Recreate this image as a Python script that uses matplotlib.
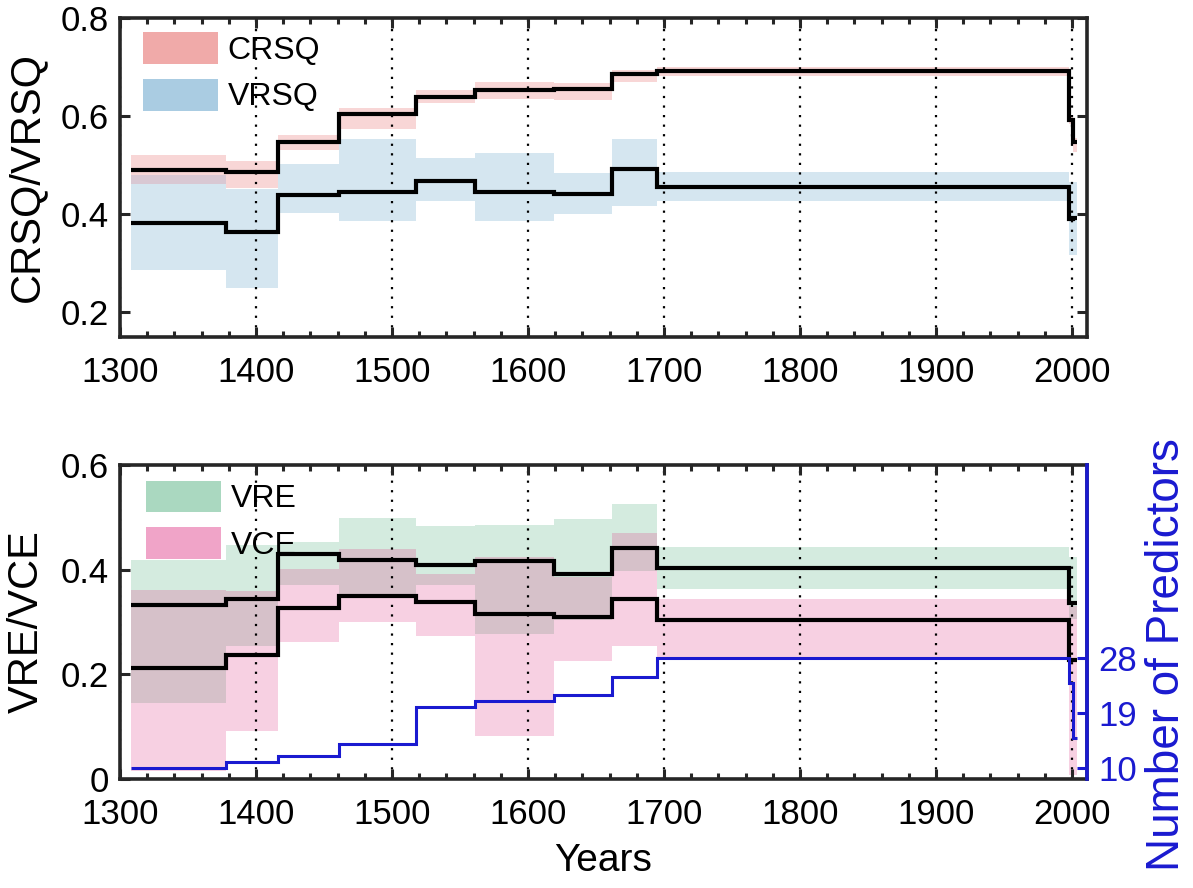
import numpy as np
import matplotlib
matplotlib.use('Agg')
import matplotlib.pyplot as plt
from matplotlib.patches import Patch
from matplotlib.ticker import MultipleLocator

plt.rcParams['font.family'] = ['Liberation Sans', 'DejaVu Sans']

# ---------------- data ----------------
segment_edges = [1308, 1378, 1416, 1461, 1518, 1561, 1619, 1662, 1695, 1998, 2001, 2004]

crsq_median = [0.490, 0.487, 0.547, 0.605, 0.639, 0.654, 0.656, 0.685, 0.693, 0.592, 0.548]
crsq_upper  = [0.520, 0.509, 0.561, 0.616, 0.653, 0.669, 0.668, 0.694, 0.701, 0.600, 0.555]
crsq_lower  = [0.461, 0.454, 0.532, 0.573, 0.627, 0.634, 0.633, 0.669, 0.681, 0.585, 0.527]

vrsq_median = [0.383, 0.363, 0.439, 0.446, 0.468, 0.446, 0.441, 0.492, 0.456, 0.390, 0.392]
vrsq_upper  = [0.481, 0.452, 0.502, 0.553, 0.514, 0.524, 0.485, 0.553, 0.487, 0.465, 0.465]
vrsq_lower  = [0.287, 0.250, 0.403, 0.386, 0.428, 0.386, 0.401, 0.417, 0.427, 0.318, 0.318]

vre_median = [0.332, 0.343, 0.429, 0.419, 0.408, 0.416, 0.392, 0.442, 0.404, 0.336, 0.336]
vre_upper  = [0.418, 0.447, 0.453, 0.499, 0.483, 0.486, 0.496, 0.525, 0.443, 0.424, 0.424]
vre_lower  = [0.146, 0.254, 0.370, 0.345, 0.371, 0.277, 0.303, 0.397, 0.364, 0.306, 0.306]

vce_median = [0.212, 0.236, 0.327, 0.349, 0.338, 0.316, 0.309, 0.343, 0.304, 0.227, 0.227]
vce_upper  = [0.362, 0.360, 0.402, 0.440, 0.392, 0.424, 0.386, 0.470, 0.343, 0.330, 0.330]
vce_lower  = [0.015, 0.092, 0.261, 0.300, 0.273, 0.082, 0.226, 0.255, 0.232, 0.007, 0.007]

n_predictors = [10, 11, 12, 14, 20, 21, 22, 25, 28, 24, 15]

year_ticks = [1300, 1400, 1500, 1600, 1700, 1800, 1900, 2000]
predictor_ticks = [10, 19, 28]

# ---------------- style ----------------
SPINE = '#262626'
BLUE = '#1a1ad0'
CRSQ_C, CRSQ_F = '#f0aaa9', '#f8d6d6'
VRSQ_C, VRSQ_F = '#aacce2', '#d5e6f0'
TOP_OV = '#d9c8d3'
VRE_C, VRE_F = '#aad8c0', '#d4ebdf'
VCE_C, VCE_F = '#f0a4c8', '#f7d0e2'
BOT_OV = '#d6c1c9'

TICK_FS = 25
LABEL_FS = 30

W, H = 1193, 888
fig = plt.figure(figsize=(W / 100, H / 100), dpi=100)
ax1 = fig.add_axes([120 / W, 1 - 337 / H, 967 / W, 319 / H])
ax2 = fig.add_axes([120 / W, 1 - 779 / H, 967 / W, 314 / H])

edges = np.array(segment_edges, dtype=float)


def band(ax, lo, hi, color, z=1.0):
    ax.stairs(np.asarray(hi), edges, baseline=np.asarray(lo), fill=True,
              color=color, linewidth=0, zorder=z)


def overlap(ax, loA, hiA, loB, hiB, color):
    lo = np.maximum(loA, loB)
    hi = np.minimum(hiA, hiB)
    hi = np.where(hi > lo, hi, lo)
    band(ax, lo, hi, color, z=1.1)


def style_axis(ax, right=True):
    for s in ax.spines.values():
        s.set_linewidth(2.6)
        s.set_color(SPINE)
    ax.set_xlim(1300, 2011)
    ax.set_xticks(year_ticks)
    ax.xaxis.set_minor_locator(MultipleLocator(20))
    ax.tick_params(which='both', direction='in', top=True, right=right,
                   width=2.2, color=SPINE, labelsize=TICK_FS)
    ax.tick_params(axis='y', pad=8)
    ax.tick_params(axis='x', pad=14)
    ax.tick_params(which='major', length=7.5)
    ax.tick_params(which='minor', length=4.5)
    ax.tick_params(axis='y', which='minor', left=False, right=False)
    ax.xaxis.grid(True, which='major', color='k', linestyle=(0, (1, 3.3)),
                  linewidth=1.6)


# ---------------- top panel ----------------
band(ax1, crsq_lower, crsq_upper, CRSQ_F)
band(ax1, vrsq_lower, vrsq_upper, VRSQ_F)
overlap(ax1, crsq_lower, crsq_upper, vrsq_lower, vrsq_upper, TOP_OV)
ax1.stairs(crsq_median, edges, baseline=None, color='k', linewidth=3, zorder=3)
ax1.stairs(vrsq_median, edges, baseline=None, color='k', linewidth=3, zorder=3)
ax1.set_ylim(0.15, 0.8)
ax1.set_yticks([0.2, 0.4, 0.6, 0.8])
style_axis(ax1)
ax1.set_ylabel('CRSQ/VRSQ', fontsize=LABEL_FS, labelpad=10)

h1 = [Patch(facecolor=CRSQ_C, edgecolor='none'), Patch(facecolor=VRSQ_C, edgecolor='none')]
ax1.legend(h1, ['CRSQ', 'VRSQ'], loc='upper left', bbox_to_anchor=(0.024, 0.955),
           frameon=False, fontsize=23, handlelength=2.35, handleheight=1.15,
           handletextpad=0.3, labelspacing=0.4, borderaxespad=0, borderpad=0)

# ---------------- bottom panel ----------------
band(ax2, vre_lower, vre_upper, VRE_F)
band(ax2, vce_lower, vce_upper, VCE_F)
overlap(ax2, vre_lower, vre_upper, vce_lower, vce_upper, BOT_OV)
ax2.stairs(vre_median, edges, baseline=None, color='k', linewidth=3, zorder=3)
ax2.stairs(vce_median, edges, baseline=None, color='k', linewidth=3, zorder=3)
ax2.set_ylim(0, 0.6)
ax2.set_yticks([0, 0.2, 0.4, 0.6])
ax2.set_yticklabels(['0', '0.2', '0.4', '0.6'])
style_axis(ax2, right=False)
ax2.set_ylabel('VRE/VCE', fontsize=LABEL_FS, labelpad=10)
ax2.set_xlabel('Years', fontsize=28, labelpad=8)

h2 = [Patch(facecolor=VRE_C, edgecolor='none'), Patch(facecolor=VCE_C, edgecolor='none')]
ax2.legend(h2, ['VRE', 'VCE'], loc='upper left', bbox_to_anchor=(0.027, 0.95),
           frameon=False, fontsize=23, handlelength=2.35, handleheight=1.15,
           handletextpad=0.3, labelspacing=0.4, borderaxespad=0, borderpad=0)

axr = ax2.twinx()
axr.stairs(n_predictors, edges, baseline=None, color=BLUE, linewidth=2.2, zorder=3)
axr.set_ylim(8.25, 59.6)
axr.set_yticks(predictor_ticks)
for k in ('left', 'top', 'bottom'):
    axr.spines[k].set_visible(False)
axr.spines['right'].set_color(BLUE)
axr.spines['right'].set_linewidth(2.6)
axr.tick_params(axis='y', direction='in', length=7.5, width=2.2, colors=BLUE,
                labelsize=TICK_FS, pad=8)
fig.text(1167 / W, 1 - 438 / H, 'Number of Predictors', rotation=90,
         ha='center', va='top', fontsize=33, color=BLUE)

fig.savefig('out.png', dpi=100)
